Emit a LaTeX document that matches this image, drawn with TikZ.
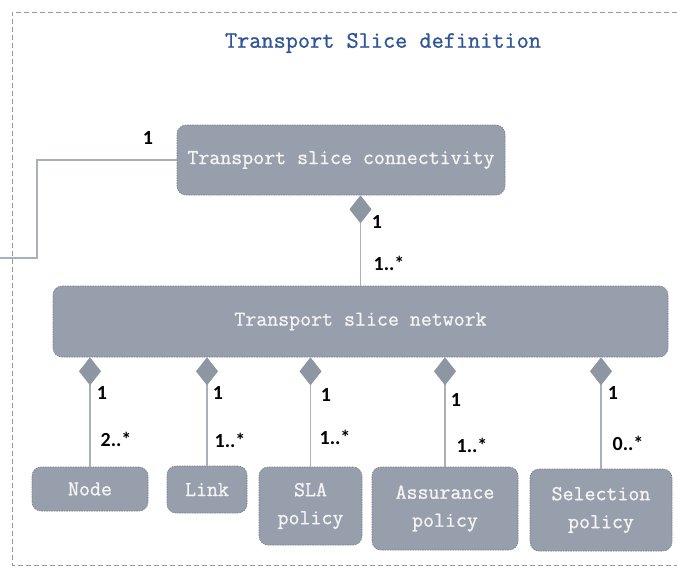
\documentclass[tikz,border=0pt]{standalone}
\usepackage{fontspec}
\setmainfont{Carlito}
\newfontfamily\boxfont{Latin Modern Mono}[FakeBold=1]
\usetikzlibrary{arrows.meta}
\definecolor{boxfill}{HTML}{969FAB}
\definecolor{boxline}{HTML}{767E89}
\definecolor{connline}{HTML}{A9B0BA}
\definecolor{diafill}{HTML}{8D96A2}
\definecolor{titleblue}{HTML}{2F5597}
\definecolor{boxtext}{HTML}{F4F4F4}
\tikzset{
  umlbox/.style={draw=boxline, fill=boxfill, rounded corners=9pt, line width=0.6pt,
    dash pattern=on 1.5pt off 1pt, inner sep=0pt, align=center,
    text=boxtext, font=\boxfont\fontsize{21.3}{28}\selectfont},
  conn/.style={draw=connline, line width=1.2pt},
  comp/.style={conn, -{Diamond[width=22pt,length=28pt,fill=diafill,color=diafill]}},
  mult/.style={font=\bfseries\fontsize{20}{20}\selectfont, inner sep=0pt}
}
\begin{document}
\begin{tikzpicture}[x=1pt,y=-1pt]
\useasboundingbox (0,0) rectangle (677,568);
% outer frame
\draw[gray!80, line width=0.8pt, dash pattern=on 5pt off 3pt] (677,12) -- (12,12) -- (12,565) -- (677,565);
\node[text=titleblue, font=\boxfont\fontsize{23.6}{26}\selectfont] (title) at (383,43) {Transport Slice definition};
% boxes
\node[umlbox, minimum width=328pt, minimum height=70pt] (conn) at (341,160) {Transport slice connectivity};
\node[umlbox, minimum width=615pt, minimum height=71pt] (net) at (360.5,321.5) {Transport slice network};
\node[umlbox, minimum width=116pt, minimum height=44pt] (nd) at (90,489) {Node};
\node[umlbox, minimum width=80pt, minimum height=47pt] (lk) at (207,489.5) {Link};
\node[umlbox, minimum width=103pt, minimum height=78pt] (sla) at (310.5,506) {SLA\\policy};
\node[umlbox, minimum width=146pt, minimum height=83pt] (asr) at (445,508.5) {Assurance\\policy};
\node[umlbox, minimum width=142pt, minimum height=82pt] (sel) at (601,510) {Selection\\policy};
% external link
\coordinate (ext) at (0,258);
\draw[conn] (conn.west) -| (37,258) -- (ext);
\node[mult] (m0) at (148,138) {1};
% compositions
\draw[comp] (net.north) -- (net.north |- conn.south);
\node[mult] (m1) at (377,222) {1};
\node[mult] (m2) at (389,263) {1..*};
\draw[comp] (nd.north) -- (nd.north |- net.south);
\node[mult] (m3) at (102,393) {1};
\node[mult] (m4) at (116,439) {2..*};
\draw[comp] (lk.north) -- (lk.north |- net.south);
\node[mult] (m5) at (218,393) {1};
\node[mult] (m6) at (230,440) {1..*};
\draw[comp] (sla.north) -- (sla.north |- net.south);
\node[mult] (m7) at (326,395) {1};
\node[mult] (m8) at (335,437) {1..*};
\draw[comp] (asr.north) -- (asr.north |- net.south);
\node[mult] (m9) at (456,400) {1};
\node[mult] (m10) at (472,445) {1..*};
\draw[comp] (sel.north) -- (sel.north |- net.south);
\node[mult] (m11) at (613,393) {1};
\node[mult] (m12) at (628,443) {0..*};
\end{tikzpicture}
\end{document}
